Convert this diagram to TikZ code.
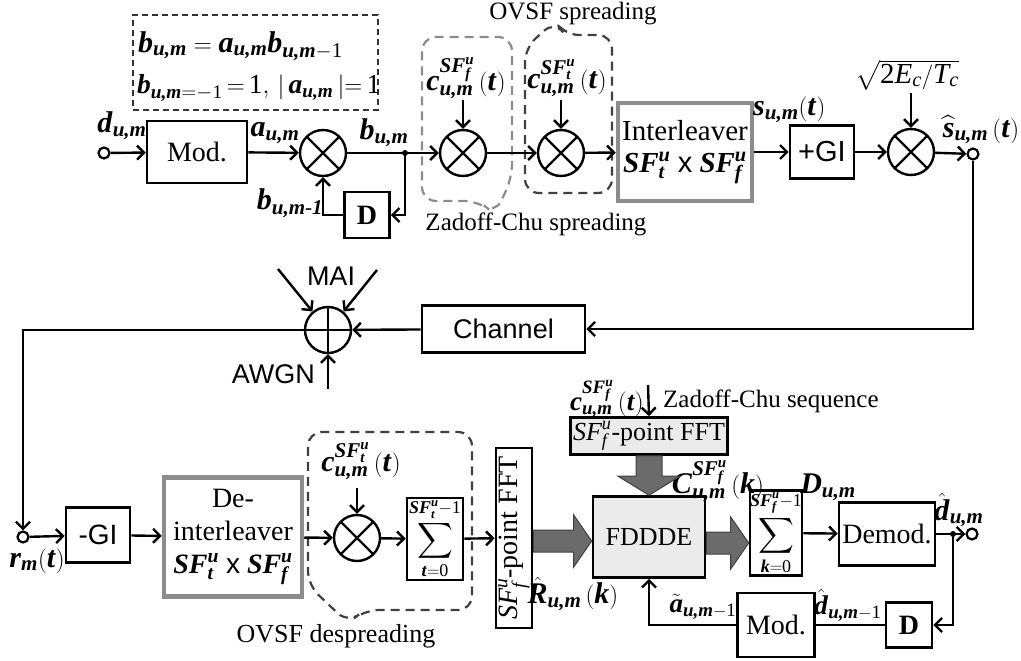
\documentclass[tikz,border=0pt]{standalone}
\usepackage{amsmath}
\usepackage{fontspec}
\setmainfont{Liberation Serif}
\newfontfamily\arial{Liberation Sans}
\usetikzlibrary{arrows.meta,calc}
\newcommand{\B}[1]{\textbf{\textit{#1}}}
\newcommand{\I}[1]{\textit{#1}}
\newcommand{\R}[1]{\textrm{#1}}
\newcommand{\lmt}[1]{\mbox{\fontsize{18}{18}\selectfont$#1$}}
\newcommand{\fatH}[3]{% from, to, y-offset
  \fill[fatc,draw=black!75,line width=1pt] let \p1=(#1), \p2=(#2) in
   (\x1,\y1+11pt+#3) -- (\x2-18pt,\y1+11pt+#3) -- (\x2-18pt,\y1+26pt+#3) -- (\x2,\y1+#3)
   -- (\x2-18pt,\y1-26pt+#3) -- (\x2-18pt,\y1-11pt+#3) -- (\x1,\y1-11pt+#3) -- cycle;}
\begin{document}
\begin{tikzpicture}[x=1pt,y=-1pt,line width=2.4pt,
  >={Straight Barb[length=7pt,width=14pt]},
  blk/.style={draw,line width=2.6pt,inner sep=0pt,font=\fontsize{28}{30}\selectfont},
  gblk/.style={draw=black!45,line width=4.5pt,inner sep=0pt,align=center,font=\fontsize{29}{36}\selectfont},
  lbl/.style={inner sep=0pt,font=\fontsize{30}{32}\selectfont},
  txt/.style={inner sep=0pt,font=\fontsize{25}{28}\selectfont},
  sans/.style={inner sep=0pt,font=\arial\fontsize{27}{30}\selectfont},
  term/.style={draw,circle,minimum size=11pt,inner sep=0pt,line width=2.2pt},
  mul/.style={draw,circle,minimum size=46pt,inner sep=0pt,line width=2.4pt,
    path picture={\draw[line width=2.2pt]
      ([shift={(-16.5pt,-16.5pt)}]path picture bounding box.center) -- ([shift={(16.5pt,16.5pt)}]path picture bounding box.center)
      ([shift={(-16.5pt,16.5pt)}]path picture bounding box.center) -- ([shift={(16.5pt,-16.5pt)}]path picture bounding box.center);}},
  add/.style={draw,circle,minimum size=46pt,inner sep=0pt,line width=2.4pt,
    path picture={\draw[line width=2.4pt]
      ([shift={(-23pt,0pt)}]path picture bounding box.center) -- ([shift={(23pt,0pt)}]path picture bounding box.center)
      ([shift={(0pt,-23pt)}]path picture bounding box.center) -- ([shift={(0pt,23pt)}]path picture bounding box.center);}},
  dsh/.style={dash pattern=on 9pt off 6pt,line width=2.2pt,rounded corners=14pt},
  fatc/.style={fill=black!58}]
\useasboundingbox (0,0) rectangle (1021,661);

% ---------------- top row ----------------
\node[draw=black!80,dash pattern=on 6pt off 4pt,line width=1.8pt,minimum width=245pt,minimum height=95pt,inner sep=0pt] (eqbox) at (255.5,62.5) {};
\node[lbl,anchor=west] (eq1) at (137,46) {$\B{b}_{\B{u,m}} = \B{a}_{\B{u,m}}\B{b}_{\B{u,m}-\R{1}}$};
\node[lbl,anchor=west,font=\fontsize{27.5}{30}\selectfont] (eq2) at (136,88) {$\B{b}_{\B{u,m}{=}{-}\R{1}}\,{=}\,\R{1},\,|\,\B{a}_{\B{u,m}}\,|{=}\,\R{1}$};

\node[term] (in1) at (104,153) {};
\node[lbl] (ldum) at (122,126) {$\B{d}_{\B{u,m}}$};
\node[blk,minimum width=100pt,minimum height=62pt] (mod1) at (197,152) {Mod.};
\node[lbl] (laum) at (275,133) {$\B{a}_{\B{u,m}}$};
\node[mul] (m1) at (323,153) {};
\node[lbl] (lbum) at (384,133) {$\B{b}_{\B{u,m}}$};
\coordinate (j1) at (405,153);
\fill (j1) circle (3pt);
\node[blk,minimum width=45pt,minimum height=46pt,font=\fontsize{28}{30}\selectfont\bfseries] (dd1) at (367,215) {D};
\node[lbl] (lbum1) at (290,203) {$\B{b}_{\B{u,m}\text{-}\B{1}}$};

\node[mul] (m2) at (463,153) {};
\node[lbl] (lc1) at (466,78) {$\B{c}^{\B{SF}^{\B{u}}_{\B{f}}}_{\B{u,m}}\,(\B{t})$};
\coordinate (c1) at (463,100);
\node[mul] (m3) at (561,153) {};
\node[lbl] (lc2) at (567,78) {$\B{c}^{\B{SF}^{\B{u}}_{\B{t}}}_{\B{u,m}}\,(\B{t})$};
\coordinate (c2) at (561,100);

\draw[black!45,dsh] (495,214) -- (478,201) -- (422,201) -- (422,37) -- (512,37) -- (512,178) -- cycle;
\draw[black!75,dsh] (555,21) -- (565,35) -- (612,35) -- (612,193) -- (525,193) -- (525,48) -- cycle;
\node[txt] (tovsf) at (573,14) {OVSF spreading};
\node[txt] (tzc) at (536,224) {Zadoff-Chu spreading};

\node[gblk,minimum width=134pt,minimum height=98pt] (il) at (685,152) {Interleaver\\[-4pt]$\B{SF}^{\B{u}}_{\B{t}}$ {\arial x} $\B{SF}^{\B{u}}_{\B{f}}$};
\node[lbl,anchor=west] (lsum) at (752,110) {$\B{s}_{\B{u,m}}(\B{t})$};
\node[blk,minimum width=64pt,minimum height=53pt,font=\arial\fontsize{29}{30}\selectfont] (gi) at (822,152) {+GI};
\node[mul] (m4) at (911,152) {};
\node[lbl,font=\fontsize{29}{32}\selectfont] (lsq) at (907,75) {$\sqrt{\R{2}\I{E}_{\I{c}}/\I{T}_{\I{c}}}$};
\coordinate (c4) at (911,93);
\node[term] (out1) at (973,154) {};
\node[lbl] (lshat) at (981,130) {$\widehat{\B{s}}_{\B{u,m}}\,(\B{t})$};

\draw[->] (in1) -- (mod1);
\draw[->] (mod1) -- (m1);
\draw (m1) -- (j1);
\draw[->] (j1) -- (m2);
\draw[->] (j1) |- (dd1.east);
\draw[->] (dd1.west) -| (m1.south);
\draw[->] (c1) -- (m2);
\draw[->] (m2) -- (m3);
\draw[->] (c2) -- (m3);
\draw[->] (m3) -- (il);
\draw[->] (il) -- (gi);
\draw[->] (gi) -- (m4);
\draw[->] (c4) -- (m4);
\draw[->] (m4) -- (out1);

% ---------------- channel row ----------------
\node[blk,minimum width=163pt,minimum height=47pt,font=\arial\fontsize{27}{30}\selectfont] (ch) at (503.5,329) {Channel};
\node[add] (adder) at (328,330) {};
\node[sans] (tmai) at (331,276) {MAI};
\node[sans,anchor=east] (tawgn) at (316,374) {AWGN};
\coordinate (mai1) at (278,269);
\coordinate (mai2) at (377,270);
\coordinate (awgn) at (328,389);
\node[term] (rm) at (23,537) {};
\node[lbl] (lrm) at (37,561) {$\B{r}_{\B{m}}(\B{t})$};

\draw[->] (out1) |- (ch.east);
\draw[->] (ch) -- (adder);
\draw[->] (mai1) -- (adder.130);
\draw[->] (mai2) -- (adder.50);
\draw[->] (awgn) -- (adder.south);
\draw[->] (adder.west) -| (rm.north);

% ---------------- bottom row ----------------
\node[blk,minimum width=64pt,minimum height=55pt,font=\arial\fontsize{28}{30}\selectfont] (mgi) at (98,535) {-GI};
\node[gblk,minimum width=138pt,minimum height=119pt,font=\fontsize{28}{33}\selectfont] (dil) at (233,537) {De-\\interleaver\\$\B{SF}^{\B{u}}_{\B{t}}$ {\arial x} $\B{SF}^{\B{u}}_{\B{f}}$};
\node[mul] (m5) at (357,538) {};
\node[lbl] (lc5) at (361,461) {$\B{c}^{\B{SF}^{\B{u}}_{\B{t}}}_{\B{u,m}}\,(\B{t})$};
\coordinate (c5) at (357,488);
\node[blk,minimum width=56pt,minimum height=82pt,font=\fontsize{32}{32}\selectfont] (s1) at (435,539)
  {$\displaystyle\sum_{\lmt{\B{t}{=}\R{0}}}^{\lmt{\B{SF}^{\B{u}}_{\B{t}}{-}\R{1}}}$};
\draw[black!75,dsh] (348,623) -- (365,610) -- (472,610) -- (472,432) -- (308,432) -- (308,585) -- cycle;
\node[txt,font=\fontsize{26}{28}\selectfont] (tdes) at (336,636) {OVSF despreading};

\node[blk,minimum width=36pt,minimum height=180pt] (fft) at (514,538) {};
\node[rotate=90,inner sep=0pt,font=\fontsize{28}{30}\selectfont] (fftt) at (fft.center) {$\I{SF}^{\I{u}}_{\I{f}}$-point FFT};
\node[blk,fill=black!8,minimum width=112pt,minimum height=81pt,font=\fontsize{26}{28}\selectfont] (fd) at (649,537) {FDDDE};
\node[blk,fill=black!8,minimum width=157pt,minimum height=37pt,font=\fontsize{26}{28}\selectfont] (fft2) at (649,436) {$\I{SF}^{\I{u}}_{\I{f}}$-point FFT};
\node[lbl,font=\fontsize{27}{28}\selectfont] (lc6) at (607,399) {$\B{c}^{\B{SF}^{\B{u}}_{\B{f}}}_{\B{u,m}}\,(\B{t})$};
\coordinate (c6) at (648,385);
\node[txt,anchor=west] (tzcs) at (662,401) {Zadoff-Chu sequence};
\node[lbl] (lC) at (718,481) {$\B{C}^{\B{SF}^{\B{u}}_{\B{f}}}_{\B{u,m}}\,(\B{k})$};
\node[lbl] (lR) at (573,594) {$\hat{\B{R}}_{\B{u,m}}\,(\B{k})$};
\node[blk,minimum width=52pt,minimum height=81pt,font=\fontsize{32}{32}\selectfont] (s2) at (776,533)
  {$\displaystyle\sum_{\lmt{\B{k}{=}\R{0}}}^{\lmt{\B{SF}^{\B{u}}_{\B{f}}{-}\R{1}}}$};
\node[lbl] (lD) at (828,487) {$\B{D}_{\B{u,m}}$};
\node[blk,minimum width=96pt,minimum height=63pt] (dem) at (887,534) {Demod.};
\coordinate (j2) at (953,534);
\fill (j2) circle (3pt);
\node[term] (out2) at (972,534) {};
\node[lbl] (ldh) at (959,510) {$\hat{\B{d}}_{\B{u,m}}$};
\node[blk,minimum width=46pt,minimum height=45pt,font=\fontsize{28}{30}\selectfont\bfseries] (dd2) at (909,625) {D};
\node[blk,minimum width=77pt,minimum height=64pt] (mod2) at (776,625) {Mod.};
\node[lbl,font=\fontsize{27}{30}\selectfont] (ldh1) at (848,605) {$\hat{\B{d}}_{\B{u,m}-\R{1}}$};
\node[lbl,font=\fontsize{27}{30}\selectfont] (lat) at (703,607) {$\tilde{\B{a}}_{\B{u,m}-\R{1}}$};

\draw[->] (rm) -- (mgi);
\draw[->] (mgi) -- (dil);
\draw[->] (dil) -- (m5);
\draw[->] (c5) -- (m5);
\draw[->] (m5) -- (s1);
\draw[->] (s1) -- (fft);
\fatH{fft.east}{fd.west}{-3pt}
\fatH{fd.east}{s2.west}{-6pt}
\fill[fatc,draw=black!75,line width=1pt] let \p1=(fft2.south), \p2=(fd.north) in
   (\x1-13pt,\y1) -- (\x1-13pt,\y2+19pt) -- (\x1-31pt,\y2+19pt) -- (\x2,\y2)
   -- (\x1+31pt,\y2+19pt) -- (\x1+13pt,\y2+19pt) -- (\x1+13pt,\y1) -- cycle;
\draw[->] (c6) -- (fft2.north);
\draw[->] (s2) -- (dem);
\draw (dem) -- (j2);
\draw[->] (j2) -- (out2);
\draw[->] (j2) |- (dd2.east);
\draw (dd2) -- (mod2);
\draw[->] (mod2.west) -| (fd.south);
\end{tikzpicture}
\end{document}
